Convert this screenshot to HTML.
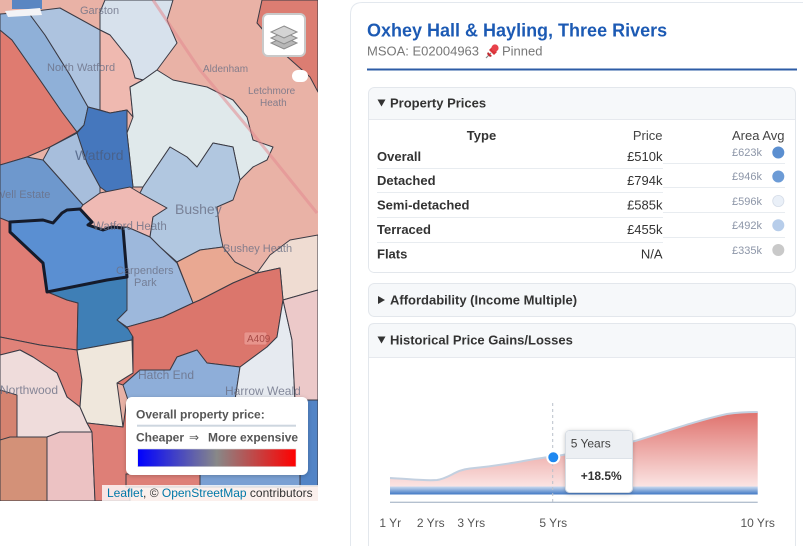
<!DOCTYPE html>
<html><head><meta charset="utf-8">
<style>
html,body{margin:0;padding:0;background:#fff;width:803px;height:546px;overflow:hidden;}
body{font-family:"Liberation Sans",Arial,sans-serif;}
svg{display:block;overflow:hidden;}
text{font-family:"Liberation Sans",Arial,sans-serif;}
</style></head><body>
<svg width="803" height="546" viewBox="0 0 803 546" xmlns="http://www.w3.org/2000/svg">
<defs>
<clipPath id="mapclip"><rect x="0" y="0" width="318" height="501"/></clipPath>
<clipPath id="pageclip"><rect x="0" y="0" width="803" height="546"/></clipPath>
<linearGradient id="leg" x1="0" x2="1" y1="0" y2="0"><stop offset="0" stop-color="#0000ff"/><stop offset="0.5" stop-color="#888888"/><stop offset="1" stop-color="#ff0000"/></linearGradient>
<linearGradient id="redg" x1="0" x2="0" y1="412" y2="487" gradientUnits="userSpaceOnUse"><stop offset="0" stop-color="#df716c"/><stop offset="1" stop-color="#fbe5e4"/></linearGradient>
<linearGradient id="blueg" x1="0" x2="0" y1="486.5" y2="494.5" gradientUnits="userSpaceOnUse"><stop offset="0" stop-color="#c9daf0"/><stop offset="1" stop-color="#4078c4"/></linearGradient>
<filter id="sh" x="-10%" y="-10%" width="120%" height="130%"><feDropShadow dx="0" dy="1" stdDeviation="2" flood-color="#000" flood-opacity="0.22"/></filter>
</defs>
<g clip-path="url(#pageclip)">
<!-- ================= MAP ================= -->
<g clip-path="url(#mapclip)">
<rect x="0" y="0" width="318" height="501" fill="#e9b2a6"/>
<g stroke="#3a3a44" stroke-width="1" stroke-linejoin="round">
<polygon points="262,0 318,0 318,92 310,77 283,53 257,23" fill="#dc7d72"/>
<polygon points="0,30 12,40 40,80 62,112 77,132 50,147 27,157 0,165" fill="#df7b70"/>
<polygon points="0,14 28,12 45,35 70,75 88,107 84,125 77,132 62,112 40,80 12,40 0,30" fill="#8fb0d8"/>
<polygon points="28,12 60,8 100,30 100,110 88,107 70,75 45,35" fill="#adc3df"/>
<polygon points="105,0 173,0 167,20 177,43 157,70 143,80 135,78 130,60 110,35 100,30 100,12" fill="#d7e1ec"/>
<polygon points="100,30 110,35 130,60 135,78 143,80 130,87 133,117 127,110 110,113 100,110" fill="#efb9b0"/>
<polygon points="157,70 173,80 207,87 233,100 247,117 253,140 273,147 267,160 253,167 240,180 233,147 213,143 197,167 187,157 170,147 143,187 133,187 127,133 133,117 130,87 143,80" fill="#e0e9eb"/>
<polygon points="88,107 110,113 127,110 127,133 133,187 130,190 107,192 100,187 87,163 77,133 84,125" fill="#4577bd"/>
<polygon points="50,147 77,133 87,163 100,187 100,193 83,205 43,160" fill="#a7bedc"/>
<polygon points="0,165 27,157 43,160 83,205 80,209 67,210 62,213 53,223 43,220 10,222 0,218" fill="#6e98cd"/>
<polygon points="83,205 100,193 130,187 140,193 167,208 153,217 150,237 127,227 112,227 103,230 88,225 92,222 80,209" fill="#efbab4"/>
<polygon points="170,147 187,157 197,167 213,143 233,147 240,180 233,200 217,207 220,233 223,247 200,250 177,262 160,247 150,237 153,217 167,208 140,193 143,187" fill="#b1c7e0"/>
<polygon points="177,262 200,250 223,247 235,262 257,273 233,283 200,300 193,303" fill="#e9a892"/>
<polygon points="257,273 270,255 290,240 318,235 318,290 283,300 280,268" fill="#efdcd2"/>
<polygon points="123,228 127,227 150,237 160,247 177,263 193,303 163,317 127,327 117,320 127,310 127,277" fill="#9db8dc"/>
<polygon points="0,218 10,222 10,232 43,263 47,292 50,293 67,300 78,303 77,350 40,345 0,337" fill="#df7d75"/>
<polygon points="47,292 107,280 127,277 127,310 117,320 133,333 132,340 77,350 78,303 67,300 50,293" fill="#3f7fb6"/>
<polygon points="127,327 163,317 193,303 200,300 233,283 257,273 280,268 283,300 277,337 267,347 240,367 207,363 197,350 177,357 170,370 140,370 123,385 117,383 133,373 133,337" fill="#db766c"/>
<polygon points="0,337 40,345 77,350 82,380 80,407 67,397 57,373 33,357 20,350 0,355" fill="#e08279"/>
<polygon points="0,355 20,350 33,357 57,373 67,397 80,407 87,423 92,432 60,432 47,437 10,437 0,440" fill="#efdcdb"/>
<polygon points="77,350 132,340 133,373 117,383 123,427 87,423 80,407 82,380" fill="#efe7dc"/>
<polygon points="0,390 17,395 17,437 0,440" fill="#d58370"/>
<polygon points="10,437 47,437 47,501 0,501 0,440" fill="#d39178"/>
<polygon points="47,437 60,432 92,432 95,501 47,501" fill="#ecc2c3"/>
<polygon points="87,423 123,427 127,400 130,501 95,501 92,432" fill="#de7f77"/>
<polygon points="123,385 140,370 170,370 177,357 197,350 207,363 240,367 235,400 128,400" fill="#8eaed9"/>
<polygon points="240,367 267,347 277,337 283,300 292,340 295,400 235,400" fill="#e6eaf0"/>
<polygon points="283,300 318,290 318,400 295,400 292,340" fill="#ecc9c9"/>
<polygon points="300,400 318,400 318,486 300,486" fill="#5284c6"/>
<polygon points="126,474 200,474 200,487 126,487" fill="#de8078"/>
<polygon points="200,474 300,474 300,487 200,487" fill="#7aa0d3"/>
</g>
<path d="M153,0 L200,70 L250,130 L317,213" stroke="#e48b8f" stroke-width="3" fill="none" opacity="0.55"/>
<rect x="12" y="0" width="30" height="9" fill="#5a86c2"/>
<polygon points="5,11 40,8 42,15 8,17" fill="#f3f3f6"/>
<polygon points="10,222 43,220 53,223 62,213 67,210 80,209 92,222 88,225 103,230 112,227 123,228 127,277 107,280 47,292 43,263 10,232" fill="#5a8fd2" stroke="#151b2b" stroke-width="3" stroke-linejoin="round"/>
<g fill="#6a6f85" fill-opacity="0.8" font-size="11">
<text x="80" y="14">Garston</text>
<text x="47" y="71">North Watford</text>
<text x="203" y="72" font-size="10">Aldenham</text>
<text x="248" y="94" font-size="10">Letchmore</text>
<text x="260" y="106" font-size="10">Heath</text>
<text x="75" y="160" font-size="14" fill="#4a5d80">Watford</text>
<text x="-5" y="198">Well Estate</text>
<text x="175" y="214" font-size="14">Bushey</text>
<text x="93" y="230" font-size="11.5">Watford Heath</text>
<text x="116" y="274">Carpenders</text>
<text x="134" y="286">Park</text>
<text x="223" y="252">Bushey Heath</text>
<text x="138" y="379" font-size="12">Hatch End</text>
<text x="0" y="394" font-size="12">Northwood</text>
<text x="225" y="395" font-size="12">Harrow Weald</text>
</g>
<rect x="244" y="332" width="23" height="13" rx="2" fill="#e7948c" stroke="#d86f68" stroke-width="0.8"/>
<text x="247" y="342" font-size="10" fill="#a84c48">A409</text>
<rect x="263" y="14" width="42" height="42" rx="5" fill="#fff" stroke="#c9c9c9" stroke-width="2"/>
<polygon points="284,37 297,43 284,49 271,43" fill="#b7b7b7" stroke="#8c8c8c" stroke-width="1"/>
<polygon points="284,32 297,38 284,44 271,38" fill="#c4c4c4" stroke="#8c8c8c" stroke-width="1"/>
<polygon points="284,26 297,32 284,38 271,32" fill="#d4d4d4" stroke="#8c8c8c" stroke-width="1"/>
<rect x="292" y="70" width="16" height="12" rx="6" fill="#fff"/>
<rect x="102" y="485" width="216" height="16" fill="#ffffff" fill-opacity="0.8"/>
<text x="107" y="497" font-size="12" fill="#333"><tspan fill="#0078a8">Leaflet</tspan>, © <tspan fill="#0078a8">OpenStreetMap</tspan> contributors</text>
</g>
<!-- legend -->
<rect x="126" y="397" width="182" height="78" rx="6" fill="#fff" filter="url(#sh)"/>
<text x="136" y="418.5" font-size="12" font-weight="bold" fill="#555">Overall property price:</text>
<rect x="137" y="424.7" width="159" height="2" fill="#cdd6df"/>
<text x="136" y="441.6" font-size="12" font-weight="bold" fill="#555">Cheaper</text>
<text x="189" y="441.6" font-size="12" font-family="DejaVu Sans, sans-serif" fill="#555">⇒</text>
<text x="208" y="441.6" font-size="12" font-weight="bold" fill="#555">More expensive</text>
<rect x="137.7" y="449" width="158.3" height="17.7" fill="url(#leg)" stroke="#ddd" stroke-width="0.6"/>

<!-- ================= PANEL ================= -->
<path d="M350.5,546 L350.5,14.5 Q350.5,2.5 362.5,2.5 L803,2.5 L803,546 Z" fill="#fff"/>
<path d="M350.5,546 L350.5,14.5 Q350.5,2.5 362.5,2.5 L803,2.5" fill="none" stroke="#e3e8ee"/>
<text x="367" y="36.3" font-size="18" font-weight="bold" fill="#1c5ab4">Oxhey Hall &amp; Hayling, Three Rivers</text>
<text x="367" y="55.7" font-size="13" fill="#777">MSOA: E02004963</text>
<g>
<line x1="486" y1="58" x2="491" y2="53" stroke="#888" stroke-width="1.2"/>
<polygon points="489,50 494,55 497,52 492,47" fill="#d9343a"/>
<circle cx="495" cy="48" r="3.6" fill="#e8414a"/>
<polygon points="488,52 492,56 490,57 487,54" fill="#c2282e"/>
</g>
<text x="502" y="55.7" font-size="13" fill="#777">Pinned</text>
<rect x="367" y="68.5" width="430" height="2" fill="#2d5ca6"/>

<!-- Property Prices -->
<rect x="368.5" y="87.5" width="427" height="185" rx="6" fill="#f6f8fa" stroke="#e3e7ec"/>
<rect x="369" y="119" width="426" height="153" rx="5" fill="#fff"/>
<rect x="369" y="119" width="426" height="10" fill="#fff"/>
<line x1="369" y1="119.5" x2="795" y2="119.5" stroke="#e6e9ee"/>
<polygon points="377.5,99.5 385.5,99.5 381.5,106.5" fill="#333"/>
<text x="390" y="107.6" font-size="13" font-weight="bold" fill="#333">Property Prices</text>

<text x="481.5" y="140.2" font-size="13" font-weight="bold" fill="#333" text-anchor="middle">Type</text>
<text x="662.5" y="140.2" font-size="13" fill="#444" text-anchor="end">Price</text>
<text x="784.5" y="140.2" font-size="13" fill="#444" text-anchor="end">Area Avg</text>
<g font-size="13" fill="#333">
<text x="377" y="160.8" font-weight="bold">Overall</text>
<text x="377" y="185.2" font-weight="bold">Detached</text>
<text x="377" y="209.5" font-weight="bold">Semi-detached</text>
<text x="377" y="234.1" font-weight="bold">Terraced</text>
<text x="377" y="258.4" font-weight="bold">Flats</text>
<text x="662.5" y="160.8" text-anchor="end">£510k</text>
<text x="662.5" y="185.2" text-anchor="end">£794k</text>
<text x="662.5" y="209.5" text-anchor="end">£585k</text>
<text x="662.5" y="234.1" text-anchor="end">£455k</text>
<text x="662.5" y="258.4" text-anchor="end">N/A</text>
</g>
<g stroke="#e8ecf0" stroke-width="1">
<line x1="377" y1="168.5" x2="663" y2="168.5"/>
<line x1="377" y1="192.5" x2="663" y2="192.5"/>
<line x1="377" y1="217.5" x2="663" y2="217.5"/>
<line x1="377" y1="242.5" x2="663" y2="242.5"/>
<line x1="663" y1="163.5" x2="785" y2="163.5"/>
<line x1="663" y1="187.5" x2="785" y2="187.5"/>
<line x1="663" y1="212.5" x2="785" y2="212.5"/>
<line x1="663" y1="237.5" x2="785" y2="237.5"/>
</g>
<g font-size="11" fill="#8d96a8" text-anchor="end">
<text x="762" y="155.8">£623k</text>
<text x="762" y="180">£946k</text>
<text x="762" y="205">£596k</text>
<text x="762" y="229">£492k</text>
<text x="762" y="254">£335k</text>
</g>
<circle cx="778.3" cy="152.5" r="6" fill="#5b8fd0"/>
<circle cx="778.3" cy="176.5" r="6" fill="#6c9bd6"/>
<circle cx="778.3" cy="201" r="5.6" fill="#eaf0f8" stroke="#d6dde8" stroke-width="0.8"/>
<circle cx="778.3" cy="225.3" r="6" fill="#b7cdea"/>
<circle cx="778.3" cy="250" r="6" fill="#c9c9c9"/>

<!-- Affordability -->
<rect x="368.5" y="283.5" width="427" height="33" rx="6" fill="#f6f8fa" stroke="#e3e7ec"/>
<polygon points="378,296 385,300 378,304" fill="#333"/>
<text x="390" y="304.6" font-size="13" font-weight="bold" fill="#333">Affordability (Income Multiple)</text>

<!-- Historical -->
<path d="M368.5,546 L368.5,329.5 Q368.5,323.5 374.5,323.5 L789.5,323.5 Q795.5,323.5 795.5,329.5 L795.5,546 Z" fill="#f6f8fa" stroke="#e3e7ec"/>
<rect x="369" y="357" width="426" height="189" fill="#fff"/>
<line x1="369" y1="357.5" x2="795" y2="357.5" stroke="#e6e9ee"/>
<polygon points="377.5,336.5 385.5,336.5 381.5,343.5" fill="#333"/>
<text x="390" y="344.6" font-size="13" font-weight="bold" fill="#333">Historical Price Gains/Losses</text>

<path d="M390,478 C410,479 425,481 437,480 C450,478 455,470 470,468.5 C485,467 500,465 515,462.5 C530,460 540,457.5 553,456.7 C580,452 610,446 635,441 C665,432 695,421 727,414 C740,412 750,412 757.7,412 L757.7,487 L390,487 Z" fill="url(#redg)"/>
<path d="M390,478 C410,479 425,481 437,480 C450,478 455,470 470,468.5 C485,467 500,465 515,462.5 C530,460 540,457.5 553,456.7 C580,452 610,446 635,441 C665,432 695,421 727,414 C740,412 750,412 757.7,412" fill="none" stroke="#c3d0e0" stroke-width="2"/>
<rect x="390" y="486.5" width="367.7" height="8" fill="url(#blueg)"/>
<line x1="390" y1="502.3" x2="757.7" y2="502.3" stroke="#b4c0cf" stroke-width="1.3"/>
<line x1="552.7" y1="403" x2="552.7" y2="502" stroke="#b9c1cb" stroke-width="1" stroke-dasharray="3,3"/>
<circle cx="553.3" cy="457.3" r="6" fill="#1e88f0" stroke="#fff" stroke-width="2"/>
<rect x="565.5" y="430.5" width="67" height="62" rx="4" fill="#fff" stroke="#d6dce3" filter="url(#sh)"/>
<path d="M566,458 L566,434.5 Q566,431 569.5,431 L628.5,431 Q632,431 632,434.5 L632,458 Z" fill="#eceff3"/>
<line x1="566" y1="458.5" x2="632" y2="458.5" stroke="#dde2e8"/>
<text x="570.7" y="447.6" font-size="12" fill="#444">5 Years</text>
<text x="580.7" y="480" font-size="12" font-weight="bold" fill="#333">+18.5%</text>
<g font-size="12" fill="#555" text-anchor="middle">
<text x="390.3" y="527">1 Yr</text>
<text x="430.8" y="527">2 Yrs</text>
<text x="471.3" y="527">3 Yrs</text>
<text x="553.3" y="527">5 Yrs</text>
<text x="757.7" y="527">10 Yrs</text>
</g>
</g>
</svg>
</body></html>
